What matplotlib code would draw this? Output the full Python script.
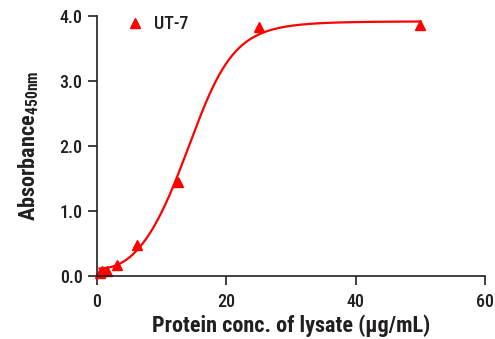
import numpy as np
import matplotlib
matplotlib.use("Agg")
import matplotlib.pyplot as plt

conc = [0.39, 0.78, 1.56, 3.125, 6.25, 12.5, 25, 50]
absorb = [0.05, 0.07, 0.08, 0.17, 0.48, 1.45, 3.83, 3.86]
series_name = "UT-7"
x_ticks = [0, 20, 40, 60]
y_ticks = [0.0, 1.0, 2.0, 3.0, 4.0]

# 5-parameter logistic fit drawn through the points (estimated from the reference curve)
fit_bottom = 0.114
fit_top = 3.917
fit_c = 18.63
fit_hill = 6.29
fit_asym = 0.375

fams = ["Roboto Condensed", "Asap Condensed", "Archivo Narrow", "DejaVu Sans"]
plt.rcParams["font.family"] = fams
plt.rcParams["mathtext.fontset"] = "custom"
plt.rcParams["mathtext.bf"] = fams[0] + ":bold"
plt.rcParams["mathtext.rm"] = fams[0]

dark = "#231f20"
red = "#ff0000"


def five_pl(x):
    return fit_bottom + (fit_top - fit_bottom) * (1 + (fit_c / x) ** fit_hill) ** (-fit_asym)


fig = plt.figure(figsize=(4.95, 3.39), dpi=100)
ax = fig.add_axes([0.196, 0.186, 0.784, 0.767])

xs = np.linspace(min(conc), max(conc), 400)
ax.plot(xs, five_pl(xs), color=red, lw=1.6, clip_on=False)
ax.plot(conc, absorb, linestyle="none", marker="^", ms=6.5, color=red, clip_on=False, label=series_name)

ax.set_xlim(0, 60)
ax.set_ylim(0, 4)
ax.set_xticks(x_ticks)
ax.set_yticks(y_ticks)
ax.set_yticklabels([f"{v:.1f}" for v in y_ticks])
for s in ["top", "right"]:
    ax.spines[s].set_visible(False)
for s in ["left", "bottom"]:
    ax.spines[s].set_linewidth(1.2)
    ax.spines[s].set_color(dark)
ax.tick_params(colors=dark, labelsize=13, width=1.2, length=6.5)
ax.tick_params(axis="x", pad=6)
ax.tick_params(axis="y", pad=4)
for lab in ax.get_xticklabels() + ax.get_yticklabels():
    lab.set_fontweight("medium")

ax.set_xlabel("Protein conc. of lysate (µg/mL)", fontsize=16, fontweight="bold", color=dark, labelpad=2)
ax.set_ylabel(r"Absorbance$_{\mathbf{450nm}}$", fontsize=16, fontweight="bold", color=dark, labelpad=13)

leg = ax.legend(loc="upper left", frameon=False, fontsize=13, handlelength=1, handletextpad=0.6,
                borderaxespad=0, bbox_to_anchor=(0.055, 1.03), labelcolor=dark)
for t in leg.get_texts():
    t.set_fontweight("medium")

fig.savefig("out.png", dpi=100)
